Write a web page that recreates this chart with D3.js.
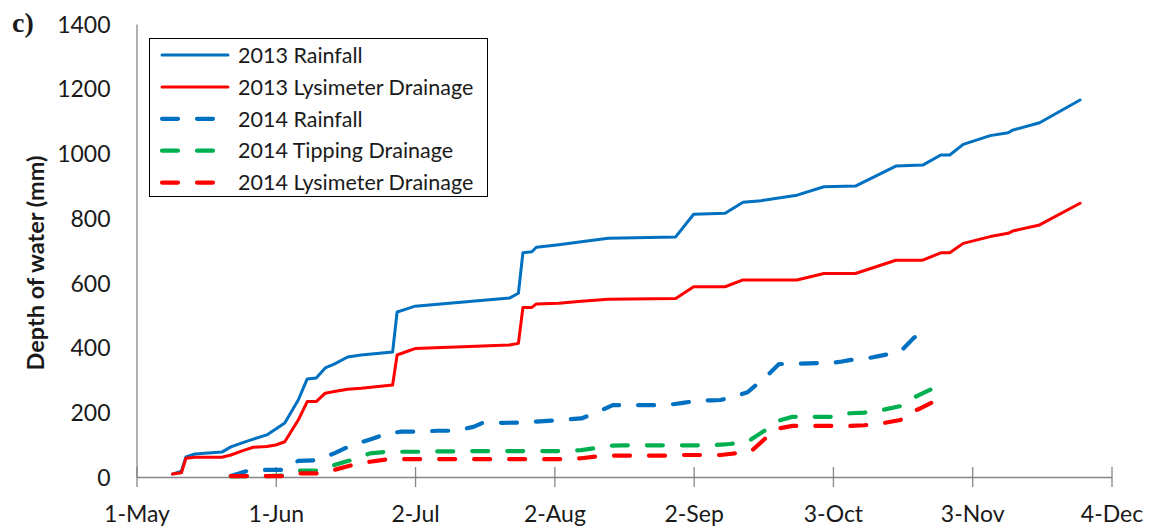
<!DOCTYPE html>
<html>
<head>
<meta charset="utf-8">
<script src="https://cdn.jsdelivr.net/npm/d3@7"></script>
<style>
  body { margin: 0; background: #fff; }
  svg { display: block; }
  text { font-family: Lato, "Open Sans", sans-serif; fill: #1a1a1a; }
</style>
</head>
<body>
<svg id="chart" width="1151" height="531"></svg>
<script>
// dates are month-day; both seasons are drawn on the same May-Dec axis
const dates13 = ["05-09","05-11","05-12","05-14","05-20","05-22","05-25","05-27","05-30","06-01",
  "06-03","06-06","06-08","06-10","06-12","06-14","06-17","06-20","06-27","06-28",
  "06-30","07-02","07-23","07-25","07-26","07-28","07-29","08-03","08-08","08-14",
  "08-29","09-02","09-09","09-13","09-17","09-25","10-01","10-08","10-17","10-23",
  "10-27","10-29","11-01","11-07","11-11","11-12","11-18","11-27"];
const rain13 = [9,18,62,71,77,93,108,117,130,148,
  167,238,303,306,337,349,371,377,386,510,
  519,528,553,568,693,696,710,718,727,738,
  742,812,815,849,854,871,897,899,961,964,
  995,995,1028,1055,1064,1072,1095,1165];
const lys13 = [9,13,58,61,61,68,83,92,94,99,
  109,176,233,233,259,264,271,274,284,377,
  387,397,408,413,524,524,535,537,543,549,
  552,588,588,609,609,609,629,629,670,670,
  693,693,722,743,753,760,779,846];

const dates14 = ["05-22","05-26","05-30","06-03","06-06","06-10","06-14","06-18","06-22","06-26",
  "06-29","07-03","07-07","07-11","07-15","07-17","07-26","08-03","08-08","08-11",
  "08-15","08-17","08-27","08-31","09-03","09-06","09-08","09-10","09-12","09-14",
  "09-15","09-18","09-21","09-24","10-03","10-05","10-07","10-10","10-14","10-18",
  "10-21","10-22","10-25","10-27"];
const rain14 = [3,20,22,22,50,52,73,99,116,135,
  140,140,143,143,155,167,168,176,181,197,
  222,222,222,230,236,237,238,245,253,262,
  274,308,349,350,353,357,362,365,376,387,
  430,439,446,null];
const tip14 = [2,3,3,5,20,20,37,53,73,78,
  78,78,79,79,80,80,80,80,83,89,
  97,98,98,98,98,98,100,102,105,109,
  118,145,174,186,186,195,197,199,207,219,
  246,252,272,276];
const lys14 = [3,3,3,3,11,11,22,37,47,55,
  55,55,55,55,55,55,55,55,58,63,
  66,66,66,68,68,68,68,71,74,76,
  82,120,150,158,158,158,158,160,166,176,
  205,209,230,230];

const xTicks = ["05-01","06-01","07-02","08-02","09-02","10-03","11-03","12-04"];
const yTicks = [0,200,400,600,800,1000,1200,1400];
const seriesNames = ["2013 Rainfall","2013 Lysimeter Drainage","2014 Rainfall","2014 Tipping Drainage","2014 Lysimeter Drainage"];

const parse = d3.timeParse("%Y-%m-%d");
const day = s => parse("2013-" + s);

const svg = d3.select("#chart");
const x = d3.scaleTime().domain([day("05-01"), day("12-04")]).range([136.5, 1111.5]);
const y = d3.scaleLinear().domain([0, 1400]).range([477, 24]);

const axisColor = "#868686";

// y axis: plain line, labels only
const gy = svg.append("g").attr("transform", "translate(136.5,0)")
  .call(d3.axisLeft(y).tickValues(yTicks).tickSize(0).tickPadding(26).tickFormat(d3.format("d")));
gy.select(".domain").attr("stroke", axisColor).attr("stroke-width", 1.3);
gy.selectAll("text").attr("font-size", 23).attr("font-family", "Lato").attr("dy", "0.36em").attr("fill", "#1a1a1a");

// x axis with ticks crossing the line
const gx = svg.append("g").attr("transform", "translate(0,477)")
  .call(d3.axisBottom(x).tickValues(xTicks.map(day)).tickFormat(d3.timeFormat("%-d-%b"))
    .tickSizeInner(10).tickSizeOuter(0));
gx.select(".domain").attr("stroke", axisColor).attr("stroke-width", 1.3);
gx.selectAll(".tick line").attr("y1", -10).attr("stroke", axisColor).attr("stroke-width", 1.3);
gx.selectAll("text").attr("font-size", 23).attr("font-family", "Lato").attr("y", 45).attr("dy", null).attr("fill", "#1a1a1a");

const styles = [
  { color: "#0070C0", width: 3, dash: null },
  { color: "#FF0000", width: 3, dash: null },
  { color: "#0070C0", width: 4.2, dash: "16,19" },
  { color: "#00B050", width: 4.2, dash: "16,19" },
  { color: "#FF0000", width: 4.2, dash: "16,19" }
];

const series = [
  dates13.map((d, i) => ({ date: day(d), v: rain13[i] })),
  dates13.map((d, i) => ({ date: day(d), v: lys13[i] })),
  dates14.map((d, i) => ({ date: day(d), v: rain14[i] })),
  dates14.map((d, i) => ({ date: day(d), v: tip14[i] })),
  dates14.map((d, i) => ({ date: day(d), v: lys14[i] }))
];

const line = d3.line().defined(d => d.v != null).x(d => x(d.date)).y(d => y(d.v));

svg.append("g").selectAll("path").data(series).join("path")
  .attr("d", line)
  .attr("fill", "none")
  .attr("stroke", (d, i) => styles[i].color)
  .attr("stroke-width", (d, i) => styles[i].width)
  .attr("stroke-dasharray", (d, i) => styles[i].dash)
  .attr("stroke-linecap", "round")
  .attr("stroke-linejoin", "round");

// legend
const lg = svg.append("g");
lg.append("rect").attr("x", 149.5).attr("y", 38.5).attr("width", 338).attr("height", 158)
  .attr("fill", "#fff").attr("stroke", "#000").attr("stroke-width", 1);
seriesNames.forEach((name, i) => {
  const ly = 55 + i * 31.9;
  lg.append("line").attr("x1", 162).attr("x2", 228).attr("y1", ly).attr("y2", ly)
    .attr("stroke", styles[i].color).attr("stroke-width", styles[i].width)
    .attr("stroke-dasharray", styles[i].dash).attr("stroke-linecap", "round");
  lg.append("text").attr("x", 238).attr("y", ly).attr("dy", "0.36em")
    .attr("font-size", 21.5).text(name);
});

// axis title and panel letter
svg.append("text").attr("transform", "translate(44,263) rotate(-90)")
  .attr("text-anchor", "middle").attr("font-size", 23.5).attr("font-weight", "bold")
  .text("Depth of water (mm)");
svg.append("text").attr("x", 12).attr("y", 32)
  .style("font-family", "'Liberation Serif', 'Times New Roman', serif")
  .attr("font-size", 28).attr("font-weight", "bold").text("c)");
</script>
</body>
</html>
